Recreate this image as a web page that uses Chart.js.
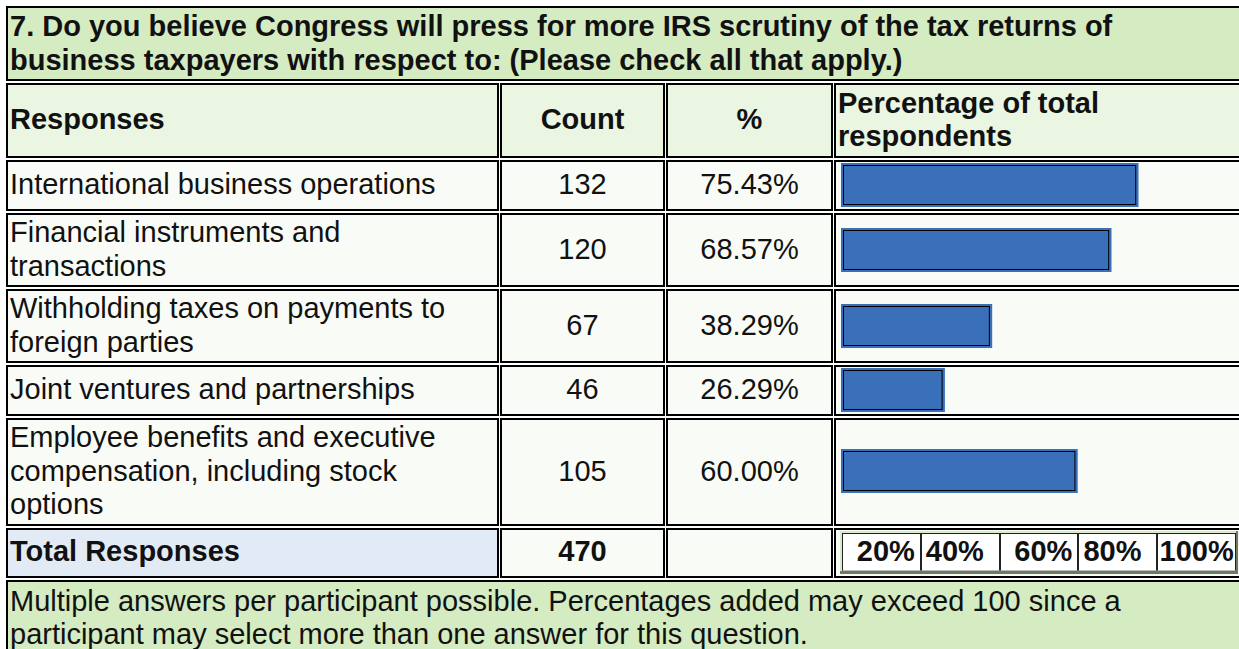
<!DOCTYPE html>
<html>
<head>
<meta charset="utf-8">
<script src="https://cdn.jsdelivr.net/npm/chart.js@4.4.1/dist/chart.umd.min.js"></script>
<style>
  html, body { margin: 0; padding: 0; background: #fff; overflow: hidden; width: 1239px; height: 649px; }
  body { font-family: "Liberation Sans", Arial, sans-serif; font-size: 29px; line-height: 33.5px; color: #111; }
  table { position: absolute; left: 5px; top: 4px; border-collapse: separate; border-spacing: 1px 2px; table-layout: fixed; width: 1238px; }
  td { border: 2px solid #000; padding: 1px 2px 2px; vertical-align: middle; box-sizing: border-box; background: #f9fcf6; }
  td.title { background: #d5ebc1; font-weight: bold; padding: 2px 20px 1.5px 2px; }
  tr.head td { background: #eaf5e2; font-weight: bold; padding: 2px 2px 2.5px; }
  td.num { text-align: center; }
  td.bar canvas { display: block; margin-left: 3px; }
  tr.total td { font-weight: bold; }
  tr.total td.lbl { background: #e2eaf5; }
  td.foot { background: #d5ebc1; padding: 3px 20px 8px 2px; }
  .scale { margin-left: 2px; width: 398px; box-sizing: border-box; background: #d8ecca; padding: 2px 0 0 2px;
           border-right: 2px solid #6b7b5e; border-bottom: 3px solid #6b7b5e; display: flex; }
  .scale div { width: 78.8px; height: 38px; box-sizing: border-box; background: #fff; line-height: 34px;
               border: 1px solid #222; border-bottom-color: #bbb; }
  .scale div:nth-child(1), .scale div:nth-child(3) { text-align: right; padding-right: 5px; }
  .scale div:nth-child(2), .scale div:nth-child(4) { text-align: left; padding-left: 4px; }
  .scale div:nth-child(5) { text-align: center; }
</style>
</head>
<body>
<table id="survey">
  <colgroup><col style="width:493px"><col style="width:165px"><col style="width:167px"><col style="width:408px"></colgroup>
  <tbody></tbody>
</table>
<script>
// data
const question = '7. Do you believe Congress will press for more IRS scrutiny of the tax returns of business taxpayers with respect to: (Please check all that apply.)';
const categories = [
  'International business operations',
  'Financial instruments and transactions',
  'Withholding taxes on payments to foreign parties',
  'Joint ventures and partnerships',
  'Employee benefits and executive compensation, including stock options'
];
const counts = [132, 120, 67, 46, 105];
const percents = [75.43, 68.57, 38.29, 26.29, 60.00];
const totalResponses = 470;
const tickLabels = ['20%', '40%', '60%', '80%', '100%'];
const footNote = 'Multiple answers per participant possible. Percentages added may exceed 100 since a participant may select more than one answer for this question.';

const barColor = '#3a70b9';

// black inner outline that the original bar images have
const innerLine = {
  id: 'innerLine',
  afterDatasetsDraw(chart) {
    const ctx = chart.ctx;
    chart.getDatasetMeta(0).data.forEach(el => {
      const p = el.getProps(['x', 'y', 'base', 'height'], true);
      const left = Math.min(p.x, p.base), right = Math.max(p.x, p.base);
      ctx.save();
      ctx.strokeStyle = '#000';
      ctx.lineWidth = 1;
      ctx.strokeRect(left + 2.5, p.y - p.height / 2 + 2.5, right - left - 5, p.height - 5);
      ctx.restore();
    });
  }
};

function buildTable() {
  const body = document.querySelector('#survey tbody');
  body.innerHTML =
    `<tr><td class="title" colspan="4">${question}</td></tr>` +
    `<tr class="head"><td>Responses</td><td class="num">Count</td><td class="num">%</td><td>Percentage of total respondents</td></tr>`;

  categories.forEach((cat, i) => {
    const tr = body.insertRow();
    tr.innerHTML = `<td>${cat}</td><td class="num">${counts[i]}</td><td class="num">${percents[i].toFixed(2)}%</td><td class="bar"><canvas width="394" height="44"></canvas></td>`;
    drawBar(tr.querySelector('canvas'), cat, percents[i]);
  });

  const total = body.insertRow();
  total.className = 'total';
  total.innerHTML = `<td class="lbl">Total Responses</td><td class="num">${totalResponses}</td><td></td>` +
    `<td class="bar"><div class="scale">${tickLabels.map(t => `<div>${t}</div>`).join('')}</div></td>`;

  const foot = body.insertRow();
  foot.innerHTML = `<td class="foot" colspan="4">${footNote}</td>`;
}

function drawBar(canvas, label, value) {
  new Chart(canvas.getContext('2d'), {
    type: 'bar',
    data: {
      labels: [label],
      datasets: [{ data: [value], backgroundColor: barColor, borderWidth: 0, barPercentage: 1, categoryPercentage: 1 }]
    },
    options: {
      indexAxis: 'y',
      responsive: false,
      animation: false,
      layout: { padding: 0 },
      plugins: { legend: { display: false }, tooltip: { enabled: false } },
      scales: {
        x: { min: 0, max: 100, display: false },
        y: { display: false }
      }
    },
    plugins: [innerLine]
  });
}

buildTable();
</script>
</body>
</html>
